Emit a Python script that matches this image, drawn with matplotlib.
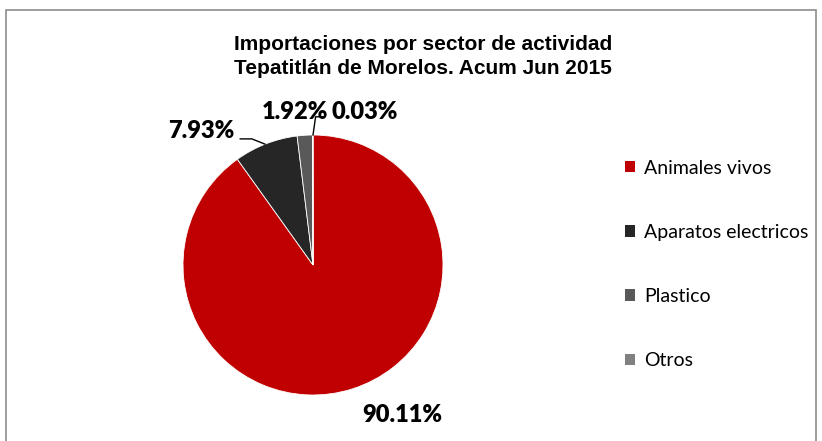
import matplotlib.pyplot as plt
from matplotlib.patches import Rectangle

labels = ['Animales vivos', 'Aparatos electricos', 'Plastico', 'Otros']
values = [90.11, 7.93, 1.92, 0.03]
colors = ['#C00000', '#262626', '#595959', '#808080']

W, H = 822, 441
fig = plt.figure(figsize=(W / 100, H / 100), dpi=100)
fig.patch.set_facecolor('white')

# chart border (bottom edge cut off like the original)
fig.patches.append(Rectangle((6 / W, -0.05), 810 / W, (H - 10) / H + 0.05,
                             transform=fig.transFigure, fill=False,
                             edgecolor='#8c8c8c', linewidth=1.2))

fig.text(423 / W, 1 - 45 / H, 'Importaciones por sector de actividad',
         ha='center', va='center', fontsize=15, fontweight='bold',
         family='Liberation Sans')
fig.text(423 / W, 1 - 69 / H, 'Tepatitlán de Morelos. Acum Jun 2015',
         ha='center', va='center', fontsize=15, fontweight='bold',
         family='Liberation Sans')

cx, cy, r = 313, 265, 130
ax = fig.add_axes([(cx - r) / W, (H - cy - r) / H, 2 * r / W, 2 * r / H])
wedges, _ = ax.pie(values, colors=colors, startangle=90, counterclock=False,
                   wedgeprops=dict(edgecolor='white', linewidth=0.6))
ax.set_xlim(-1, 1)
ax.set_ylim(-1, 1)

lab_pos = [(0.69, -1.15), (-0.86, 1.03), (-0.14, 1.18), (0.40, 1.18)]
for v, (x, y) in zip(values, lab_pos):
    ax.text(x, y, '%.2f%%' % v, ha='center', va='center', fontsize=17,
            fontweight='heavy', family='Lato', clip_on=False)

# leader lines
ax.plot([-0.56, -0.47, -0.37], [0.97, 0.97, 0.93], color='black', lw=1, clip_on=False)
ax.plot([0.0, 0.02, 0.08], [1.0, 1.14, 1.14], color='black', lw=1, clip_on=False)

handles = [Rectangle((0, 0), 1, 1, facecolor=c) for c in colors]
leg = fig.legend(handles, labels, loc='upper left',
                 bbox_to_anchor=(607 / W, 1 - 142 / H), frameon=False,
                 prop={'family': 'Lato', 'size': 14}, handlelength=0.55,
                 handleheight=0.55, handletextpad=0.45, labelspacing=2.43)

fig.savefig('out.png', dpi=100)
